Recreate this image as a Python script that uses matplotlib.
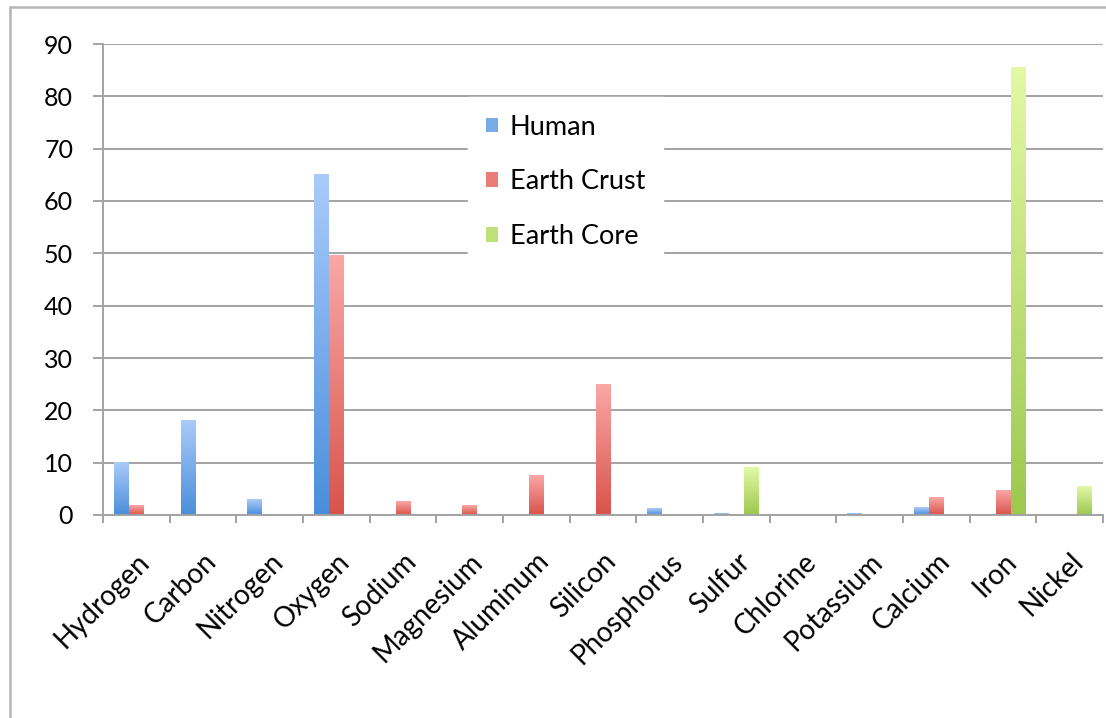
import numpy as np
import matplotlib
matplotlib.use("Agg")
import matplotlib.pyplot as plt
from matplotlib.colors import LinearSegmentedColormap, to_rgb, to_hex
from matplotlib.patches import Rectangle

plt.rcParams['font.family'] = ['Lato', 'DejaVu Sans']

elements = ["Hydrogen", "Carbon", "Nitrogen", "Oxygen", "Sodium", "Magnesium",
            "Aluminum", "Silicon", "Phosphorus", "Sulfur", "Chlorine",
            "Potassium", "Calcium", "Iron", "Nickel"]
human = [10, 18, 3, 65, 0, 0, 0, 0, 1.2, 0.25, 0.15, 0.35, 1.5, 0, 0]
earth_crust = [1.9, 0, 0, 49.5, 2.6, 1.9, 7.5, 25, 0, 0, 0, 0, 3.4, 4.7, 0]
earth_core = [0, 0, 0, 0, 0, 0, 0, 0, 0, 9, 0, 0, 0, 85.5, 5.5]
series_names = ["Human", "Earth Crust", "Earth Core"]
y_ticks = [0, 10, 20, 30, 40, 50, 60, 70, 80, 90]

# light (top) -> dark (bottom) gradient per series
gradients = [("#aacbfa", "#4a8edb"),
             ("#f9a8a6", "#d9534b"),
             ("#e3f9a6", "#9cc84e")]

W, H = 1106, 718
fig = plt.figure(figsize=(W / 100, H / 100), dpi=100)
ax = fig.add_axes([103 / W, 1 - 515 / H, 1000 / W, 471 / H])

grid_col = "#a3a3a3"
for y in y_ticks:
    ax.axhline(y, color=grid_col, lw=1.4, zorder=1)

n = len(elements)
x = np.arange(n)
bw = 0.225
offsets = [-bw, 0, bw]
grad = np.linspace(0, 1, 256).reshape(-1, 1)

for s, vals in enumerate([human, earth_crust, earth_core]):
    cmap = LinearSegmentedColormap.from_list("g%d" % s, [gradients[s][1], gradients[s][0]])
    bars = ax.bar(x + offsets[s], vals, width=bw, color="none", linewidth=0, zorder=2)
    for b, v in zip(bars, vals):
        if v <= 0:
            continue
        x0 = b.get_x()
        ax.imshow(grad, cmap=cmap, origin="lower", aspect="auto",
                  extent=[x0, x0 + bw, 0, v], zorder=2, interpolation="bilinear")

ax.set_xlim(-0.5, n - 0.5)
ax.set_ylim(0, 90)

ax.set_yticks(y_ticks)
ax.set_yticklabels([str(v) for v in y_ticks], fontsize=18)
ax.tick_params(axis="y", length=7.5, width=1.4, color=grid_col, pad=14)

ax.set_xticks(x)
ax.set_xticklabels(elements, rotation=45, ha="right", rotation_mode="anchor", fontsize=20)
ax.set_xticks(np.arange(-0.5, n, 1.0), minor=True)
ax.tick_params(axis="x", which="major", length=0, pad=24)
ax.tick_params(axis="x", which="minor", length=6, width=1.4, color=grid_col)

for side in ["top", "right"]:
    ax.spines[side].set_visible(False)
ax.spines["left"].set_color(grid_col)
ax.spines["left"].set_linewidth(1.4)
ax.spines["bottom"].set_color(grid_col)
ax.spines["bottom"].set_linewidth(1.4)
ax.spines["bottom"].set_zorder(3)

# legend with mid-tone swatches
def mid(c1, c2):
    return to_hex(0.5 * np.array(to_rgb(c1)) + 0.5 * np.array(to_rgb(c2)))

handles = [Rectangle((0, 0), 1, 1, facecolor=mid(*gradients[i])) for i in range(3)]
leg = ax.legend(handles, series_names, loc="upper left",
                bbox_to_anchor=(468 / W, 1 - 97 / H), bbox_transform=fig.transFigure,
                frameon=True, fancybox=False, fontsize=19.5, labelspacing=1.1,
                handlelength=0.45, handleheight=0.45, handletextpad=0.45,
                borderpad=0.65, borderaxespad=0)
leg.get_frame().set_edgecolor("white")
leg.get_frame().set_facecolor("white")
leg.get_frame().set_alpha(1)
leg.set_zorder(5)

# outer chart border
fig.patches.append(Rectangle((10 / W, -0.05), 1.1, 1 - 7 / H + 0.05, transform=fig.transFigure,
                             fill=False, edgecolor="#b5b5b5", lw=1.8))

fig.savefig("out.png", dpi=100)
